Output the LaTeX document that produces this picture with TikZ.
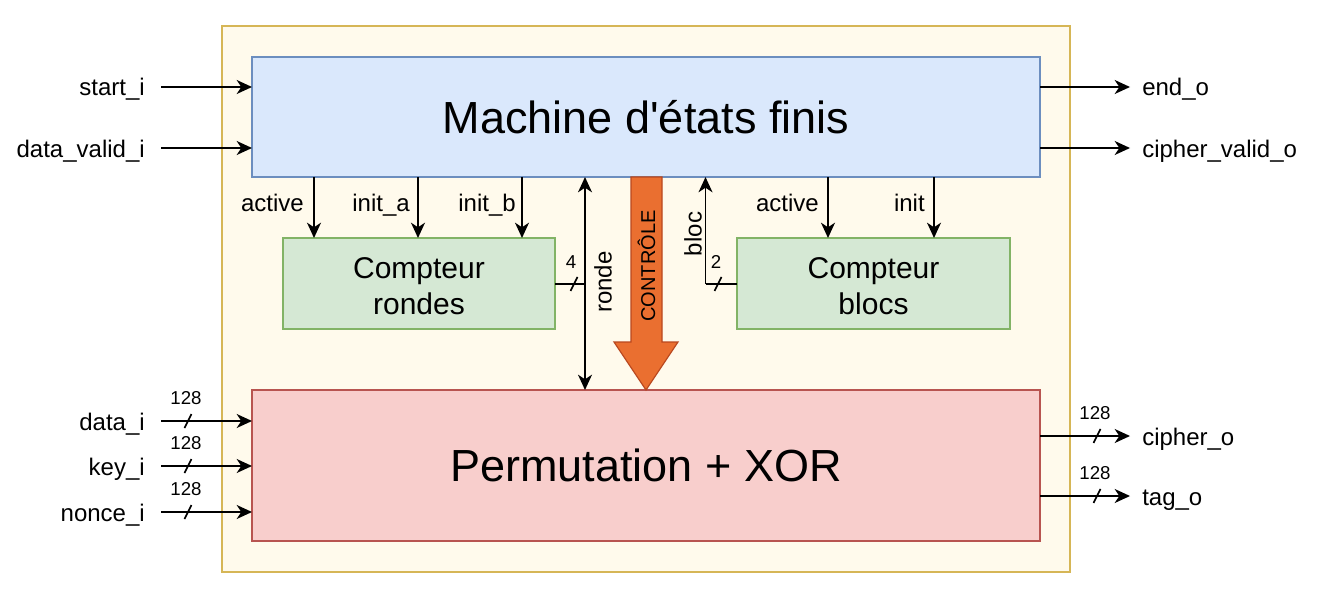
\documentclass[tikz,border=0pt]{standalone}
\usepackage{fontspec}
\setmainfont{Liberation Sans}
\usetikzlibrary{arrows.meta,calc}
\definecolor{outerfill}{HTML}{FFFAEC}
\definecolor{outerdraw}{HTML}{D6B656}
\definecolor{bluefill}{HTML}{DAE8FC}
\definecolor{bluedraw}{HTML}{6C8EBF}
\definecolor{greenfill}{HTML}{D5E8D4}
\definecolor{greendraw}{HTML}{82B366}
\definecolor{redfill}{HTML}{F8CECC}
\definecolor{reddraw}{HTML}{B85450}
\definecolor{orangefill}{HTML}{EA6F30}
\definecolor{orangedraw}{HTML}{B9481F}
\tikzset{
  tipA/.tip={Stealth[length=11.5pt,width=10.5pt,inset=3.5pt]},
  box/.style={draw, line width=0.9pt, inner sep=0pt, outer sep=0pt, align=center},
  arr/.style={line width=1.3pt, -tipA},
  darr/.style={line width=1.3pt, tipA-tipA},
  ln/.style={line width=1.3pt},
  lbl/.style={inner sep=0pt, font=\fontsize{18pt}{21pt}\selectfont},
  num/.style={inner sep=0pt, font=\fontsize{14pt}{16pt}\selectfont},
  big/.style={font=\fontsize{33.75pt}{40pt}\selectfont},
  mid/.style={font=\fontsize{22.5pt}{27pt}\selectfont},
}
\newcommand{\busmark}[2]{\draw[line width=1.2pt] ($(#1,#2)+(-3.5,7)$) -- ($(#1,#2)+(3.5,-7)$);}
\begin{document}
\begin{tikzpicture}[x=0.75pt,y=-0.75pt]
\useasboundingbox (0,0) rectangle (1320,606);
% container
\node[box, draw=outerdraw, fill=outerfill, minimum width=636pt, minimum height=409.5pt] (outer) at (646,299) {};
% blocks
\node[box, draw=bluedraw, fill=bluefill, minimum width=591pt, minimum height=90pt, big] (fsm) at (646,117) {Machine d\textquotesingle états finis};
\node[box, draw=greendraw, fill=greenfill, minimum width=204pt, minimum height=68.25pt] (rondes) at (419,283.5) {};
\node[box, draw=greendraw, fill=greenfill, minimum width=204.75pt, minimum height=68.25pt] (blocs) at (873.5,283.5) {};
\node[mid, align=center, inner sep=0pt] (trondes) at (419,286) {Compteur\\rondes};
\node[mid, align=center, inner sep=0pt] (tblocs) at (873.5,286) {Compteur\\blocs};
\node[box, draw=reddraw, fill=redfill, minimum width=591pt, minimum height=113.25pt, big] (perm) at (646,465.5) {Permutation + XOR};

% FSM inputs
\coordinate (i1) at (161,87);
\coordinate (i2) at (161,148);
\draw[arr] (i1) -- (i1 -| fsm.west);
\draw[arr] (i2) -- (i2 -| fsm.west);
\node[lbl, anchor=base east] (li1) at (145,96) {start\_i};
\node[lbl, anchor=base east] (li2) at (145,157) {data\_valid\_i};
% FSM outputs
\coordinate (o1) at (1130,87);
\coordinate (o2) at (1130,148);
\draw[arr] (o1 -| fsm.east) -- (o1);
\draw[arr] (o2 -| fsm.east) -- (o2);
\node[lbl, anchor=base west] (lo1) at (1142,96) {end\_o};
\node[lbl, anchor=base west] (lo2) at (1142,157) {cipher\_valid\_o};

% control arrows down
\draw[arr] (314,0 |- fsm.south) -- (314,0 |- rondes.north);
\draw[arr] (418,0 |- fsm.south) -- (418,0 |- rondes.north);
\draw[arr] (522,0 |- fsm.south) -- (522,0 |- rondes.north);
\draw[arr] (828,0 |- fsm.south) -- (828,0 |- blocs.north);
\draw[arr] (934,0 |- fsm.south) -- (934,0 |- blocs.north);
\node[lbl, anchor=base east] (la1) at (304,211) {active};
\node[lbl, anchor=base east] (la2) at (410,211) {init\_a};
\node[lbl, anchor=base east] (la3) at (516,211) {init\_b};
\node[lbl, anchor=base east] (la4) at (819,211) {active};
\node[lbl, anchor=base east] (la5) at (925,211) {init};

% ronde bus
\coordinate (rj) at (585,284);
\draw[darr] (rj |- fsm.south) -- (rj |- perm.north);
\draw[ln] (rondes.east |- rj) -- (rj);
\busmark{574}{284}
\node[num] (n4) at (571,262) {4};
\node[lbl, rotate=90] (lronde) at (603,282) {ronde};

% bloc bus
\coordinate (bj) at (705.5,284);
\draw[ln] (blocs.west |- bj) -- (bj);
\draw[arr] (bj) -- (bj |- fsm.south);
\busmark{718}{284}
\node[num] (n2) at (716,262) {2};
\node[lbl, rotate=90] (lbloc) at (693,234) {bloc};

% big control arrow
\draw[line width=0.9pt, draw=orangedraw, fill=orangefill]
  (631,0 |- fsm.south) -- (662,0 |- fsm.south) -- (662,342) -- (678,342) -- (646,0 |- perm.north) -- (614,342) -- (631,342) -- cycle;
\node[inner sep=0pt, rotate=90, font=\fontsize{15pt}{17pt}\selectfont] (ctrl) at (646.5,266) {CONTRÔLE};

% perm inputs
\coordinate (p1) at (161,421);
\coordinate (p2) at (161,466);
\coordinate (p3) at (161,512);
\draw[arr] (p1) -- (p1 -| perm.west);
\draw[arr] (p2) -- (p2 -| perm.west);
\draw[arr] (p3) -- (p3 -| perm.west);
\busmark{188}{421}
\busmark{188}{466}
\busmark{188}{512}
\node[num] (n128a) at (186,398) {128};
\node[num] (n128b) at (186,443) {128};
\node[num] (n128c) at (186,489) {128};
\node[lbl, anchor=base east] (lp1) at (145,430) {data\_i};
\node[lbl, anchor=base east] (lp2) at (145,475) {key\_i};
\node[lbl, anchor=base east] (lp3) at (145,521) {nonce\_i};

% perm outputs
\coordinate (q1) at (1130,436);
\coordinate (q2) at (1130,496);
\draw[arr] (q1 -| perm.east) -- (q1);
\draw[arr] (q2 -| perm.east) -- (q2);
\busmark{1097}{436}
\busmark{1097}{496}
\node[num] (n128d) at (1095,413) {128};
\node[num] (n128e) at (1095,473) {128};
\node[lbl, anchor=base west] (lq1) at (1142,445) {cipher\_o};
\node[lbl, anchor=base west] (lq2) at (1142,505) {tag\_o};
\end{tikzpicture}
\end{document}
